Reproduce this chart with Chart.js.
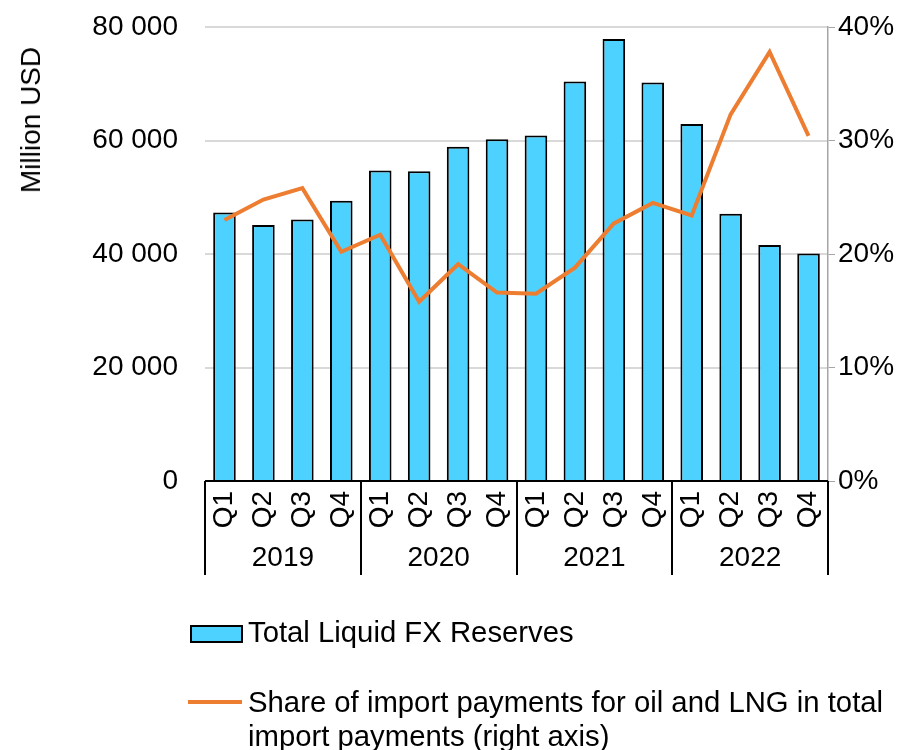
<!DOCTYPE html>
<html>
<head>
<meta charset="utf-8">
<script src="https://cdn.jsdelivr.net/npm/chart.js@4"></script>
<style>
  body { margin: 0; background: #fff; font-family: "Liberation Sans", Arial, sans-serif; }
  #wrap { position: relative; width: 914px; height: 750px; }
  #yTitle { position: absolute; left: 31px; top: 120px; font-size: 28px; color: #000;
    transform: translate(-50%, -50%) rotate(-90deg); white-space: nowrap; }
  .leg { position: absolute; font-size: 29.3px; color: #000; line-height: 34px; white-space: nowrap; }
  .swatch { position: absolute; left: 190px; top: 625px; width: 49px; height: 14px; background: #4DD2FF; border: 2px solid #000; }
  .lineSw { position: absolute; left: 188px; top: 700px; width: 54px; height: 3.5px; background: #ED7D31; }
</style>
</head>
<body>
<div id="wrap">
  <canvas id="chart" width="914" height="750"></canvas>
  <div id="yTitle">Million USD</div>
  <div class="swatch"></div>
  <div class="leg" style="left:248px; top:615px;">Total Liquid FX Reserves</div>
  <div class="lineSw"></div>
  <div class="leg" style="left:248px; top:685px;">Share of import payments for oil and LNG in total<br>import payments (right axis)</div>
</div>
<script>
const quarters = ['Q1','Q2','Q3','Q4','Q1','Q2','Q3','Q4','Q1','Q2','Q3','Q4','Q1','Q2','Q3','Q4'];
const years = ['2019', '2020', '2021', '2022'];
const reserves = [47300, 45100, 46100, 49400, 54700, 54600, 58900, 60200, 60900, 70400, 77900, 70200, 62900, 47100, 41600, 40100];
const oilShare = [23.0, 24.8, 25.8, 20.2, 21.7, 15.8, 19.1, 16.6, 16.5, 18.8, 22.7, 24.5, 23.4, 32.3, 37.8, 30.4];

const FONT = '"Liberation Sans", Arial, sans-serif';

const fmtSpace = v => String(v).replace(/\B(?=(\d{3})+(?!\d))/g, ' ');

// year groups under the quarter labels, plus the black zero line
const groupAxis = {
  id: 'groupAxis',
  afterDraw(chart) {
    const { ctx, chartArea } = chart;
    const x = chart.scales.x;
    const half = (x.getPixelForValue(1) - x.getPixelForValue(0)) / 2;
    ctx.save();
    ctx.strokeStyle = '#000';
    ctx.lineWidth = 2;
    ctx.beginPath();
    ctx.moveTo(chartArea.left, chartArea.bottom);
    ctx.lineTo(chartArea.right, chartArea.bottom);
    ctx.stroke();
    for (let g = 0; g <= years.length; g++) {
      const px = Math.round(x.getPixelForValue(g * 4) - half);
      ctx.beginPath();
      ctx.moveTo(px, chartArea.bottom);
      ctx.lineTo(px, chartArea.bottom + 94);
      ctx.stroke();
    }
    ctx.fillStyle = '#000';
    ctx.font = '28px ' + FONT;
    ctx.textAlign = 'center';
    ctx.textBaseline = 'middle';
    years.forEach((yr, g) => {
      const cx = (x.getPixelForValue(g * 4) + x.getPixelForValue(g * 4 + 3)) / 2;
      ctx.fillText(yr, cx, chartArea.bottom + 77);
    });
    ctx.restore();
  }
};

new Chart(document.getElementById('chart'), {
  type: 'bar',
  data: {
    labels: quarters,
    datasets: [
      {
        type: 'line',
        label: 'Share of import payments for oil and LNG in total import payments (right axis)',
        data: oilShare,
        yAxisID: 'y2',
        borderColor: '#ED7D31',
        borderWidth: 4,
        pointRadius: 0,
        tension: 0,
        order: 1
      },
      {
        label: 'Total Liquid FX Reserves',
        data: reserves,
        yAxisID: 'y',
        backgroundColor: '#4DD2FF',
        borderColor: '#000',
        borderWidth: 2,
        categoryPercentage: 1,
        barPercentage: 0.58,
        order: 2
      }
    ]
  },
  options: {
    responsive: false,
    animation: false,
    layout: { padding: { top: 27, left: 0, right: 0, bottom: 0 } },
    plugins: { legend: { display: false }, tooltip: { enabled: false } },
    scales: {
      x: {
        grid: { display: false },
        border: { display: false },
        ticks: {
          color: '#000', font: { family: FONT, size: 28 },
          minRotation: 90, maxRotation: 90, padding: 2, autoSkip: false
        },
        afterFit(s) { s.height = 269; }
      },
      y: {
        position: 'left',
        min: 0, max: 80000,
        grid: { color: '#D9D9D9', lineWidth: 2, drawTicks: true, tickLength: 24, tickColor: 'rgba(0,0,0,0)' },
        border: { display: false },
        ticks: {
          stepSize: 20000, padding: 3, color: '#000',
          font: { family: FONT, size: 28 },
          callback: v => fmtSpace(v)
        },
        afterFit(s) { s.width = 205; }
      },
      y2: {
        position: 'right',
        min: 0, max: 40,
        grid: { drawOnChartArea: false, color: '#A6A6A6', tickLength: 7 },
        border: { display: true, color: '#A6A6A6', width: 1.5 },
        ticks: {
          stepSize: 10, padding: 3, color: '#000',
          font: { family: FONT, size: 28 },
          callback: v => v + '%'
        },
        afterFit(s) { s.width = 86; }
      }
    }
  },
  plugins: [groupAxis]
});
</script>
</body>
</html>
